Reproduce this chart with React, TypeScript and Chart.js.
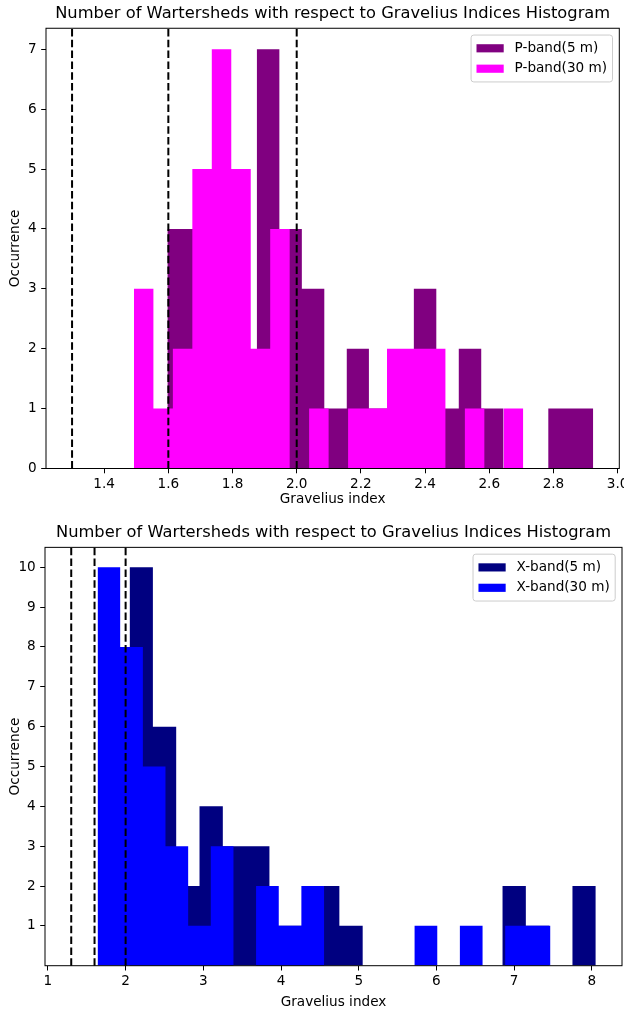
import React, { useEffect, useRef } from "react";
import { Chart, registerables } from "chart.js";

Chart.register(...registerables);

const FONT = "'DejaVu Sans', 'Liberation Sans', sans-serif";

const TITLE = "Number of Wartersheds with respect to Gravelius Indices Histogram";
const X_LABEL = "Gravelius index";
const Y_LABEL = "Occurrence";
const REFERENCE_LINES = [1.3, 1.6, 2.0];

// ---------- P-band ----------
const pBand5Label = "P-band(5 m)";
const pBand5Edges = [
  1.597, 1.667, 1.737, 1.806, 1.876, 1.946, 2.016, 2.086, 2.156, 2.225,
  2.295, 2.365, 2.435, 2.505, 2.575, 2.644, 2.714, 2.784, 2.854, 2.924,
];
const pBand5Counts = [4, 4, 3, 1, 7, 4, 3, 1, 2, 1, 1, 3, 1, 2, 1, 0, 0, 1, 1];

const pBand30Label = "P-band(30 m)";
const pBand30Edges = [
  1.4928, 1.5535, 1.6141, 1.6748, 1.7354, 1.7961, 1.8568, 1.9174, 1.9781,
  2.0387, 2.0994, 2.1601, 2.2207, 2.2814, 2.342, 2.4027, 2.4634, 2.524,
  2.5847, 2.6453, 2.706,
];
const pBand30Counts = [3, 1, 2, 5, 7, 5, 2, 4, 0, 1, 0, 1, 1, 2, 2, 2, 0, 1, 0, 1];

const pXTicks = [1.4, 1.6, 1.8, 2.0, 2.2, 2.4, 2.6, 2.8, 3.0];
const pYTicks = [0, 1, 2, 3, 4, 5, 6, 7];

// ---------- X-band ----------
const xBand5Label = "X-band(5 m)";
const xBand5Edges = [
  2.051, 2.351, 2.651, 2.951, 3.251, 3.551, 3.851, 4.151, 4.451, 4.751,
  5.051, 5.351, 5.651, 5.951, 6.251, 6.551, 6.851, 7.151, 7.451, 7.751, 8.051,
];
const xBand5Counts = [10, 6, 2, 4, 3, 3, 1, 1, 2, 1, 0, 0, 0, 0, 0, 0, 2, 1, 0, 2];

const xBand30Label = "X-band(30 m)";
const xBand30Edges = [
  1.639, 1.93, 2.222, 2.513, 2.805, 3.096, 3.388, 3.679, 3.971, 4.262,
  4.554, 4.845, 5.136, 5.428, 5.719, 6.011, 6.302, 6.594, 6.885, 7.177, 7.468,
];
const xBand30Counts = [10, 8, 5, 3, 1, 3, 0, 2, 1, 2, 0, 0, 0, 0, 1, 0, 1, 0, 1, 1];

const xXTicks = [1, 2, 3, 4, 5, 6, 7, 8];
const xYTicks = [1, 2, 3, 4, 5, 6, 7, 8, 9, 10];

type Series = { label: string; edges: number[]; counts: number[]; color: string };

type Layout = {
  height: number;
  yAxisWidth: number;
  rightPad: number;
  xAxisHeight: number;
  titleTop: number;
  titleBottom: number;
  xTitleBottom: number;
  yTitlePad: number;
};

const TEXT_SIZE = 13.6;
const TITLE_SIZE = 16.3;

function histPoints(edges: number[], counts: number[]) {
  const pts = counts.map((c, i) => ({ x: edges[i], y: c }));
  pts.push({ x: edges[edges.length - 1], y: 0 });
  return pts;
}

function HistChart(props: {
  series: Series[];
  xTicks: number[];
  yTicks: number[];
  xDecimals: number;
  layout: Layout;
}) {
  const ref = useRef<HTMLCanvasElement | null>(null);
  const { series, xTicks, yTicks, xDecimals, layout: L } = props;

  useEffect(() => {
    const canvas = ref.current;
    if (!canvas) return;

    const allX = [...REFERENCE_LINES];
    series.forEach((s) => allX.push(...s.edges));
    const lo = Math.min(...allX);
    const hi = Math.max(...allX);
    const margin = 0.05 * (hi - lo);
    const maxCount = Math.max(...series.flatMap((s) => s.counts));

    const tickFont = { family: FONT, size: TEXT_SIZE };

    const decor = {
      id: "decor",
      afterDatasetsDraw(chart: any) {
        const { ctx, chartArea } = chart;
        const xs = chart.scales.x;
        ctx.save();
        ctx.strokeStyle = "#000";
        ctx.lineWidth = 2;
        ctx.setLineDash([7.5, 3.3]);
        REFERENCE_LINES.forEach((v) => {
          const px = xs.getPixelForValue(v);
          ctx.beginPath();
          ctx.moveTo(px, chartArea.bottom);
          ctx.lineTo(px, chartArea.top);
          ctx.stroke();
        });
        ctx.restore();
      },
      afterDraw(chart: any) {
        const { ctx, chartArea } = chart;
        ctx.save();
        // frame
        ctx.strokeStyle = "#000";
        ctx.lineWidth = 1;
        ctx.setLineDash([]);
        ctx.strokeRect(
          chartArea.left,
          chartArea.top,
          chartArea.right - chartArea.left,
          chartArea.bottom - chartArea.top
        );
        // legend
        const f = TEXT_SIZE;
        ctx.font = `${f}px ${FONT}`;
        const ds = chart.data.datasets;
        const pad = 0.4 * f;
        const hl = 2 * f;
        const htp = 0.8 * f;
        const ls = 0.5 * f;
        const bap = 0.5 * f;
        const rowH = 1.0 * f;
        const maxW = Math.max(...ds.map((d: any) => ctx.measureText(d.label).width));
        const w = 2 * pad + hl + htp + maxW;
        const h = 2 * pad + ds.length * rowH + (ds.length - 1) * ls + 2;
        const x0 = chartArea.right - bap - w;
        const y0 = chartArea.top + bap;
        const r = 0.2 * f;
        ctx.beginPath();
        ctx.moveTo(x0 + r, y0);
        ctx.lineTo(x0 + w - r, y0);
        ctx.quadraticCurveTo(x0 + w, y0, x0 + w, y0 + r);
        ctx.lineTo(x0 + w, y0 + h - r);
        ctx.quadraticCurveTo(x0 + w, y0 + h, x0 + w - r, y0 + h);
        ctx.lineTo(x0 + r, y0 + h);
        ctx.quadraticCurveTo(x0, y0 + h, x0, y0 + h - r);
        ctx.lineTo(x0, y0 + r);
        ctx.quadraticCurveTo(x0, y0, x0 + r, y0);
        ctx.closePath();
        ctx.fillStyle = "rgba(255,255,255,0.8)";
        ctx.fill();
        ctx.strokeStyle = "#cccccc";
        ctx.stroke();
        ds.forEach((d: any, i: number) => {
          const cy = y0 + pad + 1 + i * (rowH + ls) + rowH / 2;
          const ph = 0.6 * f;
          ctx.fillStyle = d.backgroundColor;
          ctx.fillRect(x0 + pad, cy - ph / 2, hl, ph);
          ctx.fillStyle = "#000";
          ctx.textBaseline = "middle";
          ctx.textAlign = "left";
          ctx.fillText(d.label, x0 + pad + hl + htp, cy);
        });
        ctx.restore();
      },
    };

    const chart = new Chart(canvas, {
      type: "line",
      data: {
        datasets: series.map((s, i) => ({
          label: s.label,
          data: histPoints(s.edges, s.counts),
          stepped: "before",
          fill: "origin",
          backgroundColor: s.color,
          borderColor: s.color,
          borderWidth: 0,
          pointRadius: 0,
          pointHoverRadius: 0,
          order: series.length - i,
        })),
      },
      options: {
        responsive: false,
        animation: false,
        events: [],
        layout: { padding: { left: 0, right: L.rightPad, top: 0, bottom: 0 } },
        plugins: {
          legend: { display: false },
          tooltip: { enabled: false },
          title: {
            display: true,
            text: TITLE,
            fullSize: false,
            color: "#000",
            font: { family: FONT, size: TITLE_SIZE, weight: "normal" },
            padding: { top: L.titleTop, bottom: L.titleBottom },
          },
        },
        scales: {
          x: {
            type: "linear",
            min: lo - margin,
            max: hi + margin,
            border: { display: false },
            grid: {
              display: true,
              drawOnChartArea: false,
              drawTicks: true,
              tickLength: 4.8,
              color: "#000",
              lineWidth: 1,
            },
            ticks: {
              color: "#000",
              font: tickFont,
              padding: 3,
              maxRotation: 0,
              autoSkip: false,
              callback: (v: any) => Number(v).toFixed(xDecimals),
            },
            title: {
              display: true,
              text: X_LABEL,
              color: "#000",
              font: tickFont,
              padding: { top: 0, bottom: L.xTitleBottom },
            },
            afterBuildTicks: (s: any) => {
              s.ticks = xTicks.map((v) => ({ value: v }));
            },
            afterFit: (s: any) => {
              s.height = L.xAxisHeight;
              s.paddingLeft = 0;
              s.paddingRight = 0;
            },
          },
          y: {
            type: "linear",
            min: 0,
            max: maxCount * 1.05,
            border: { display: false },
            grid: {
              display: true,
              drawOnChartArea: false,
              drawTicks: true,
              tickLength: 4.8,
              color: "#000",
              lineWidth: 1,
            },
            ticks: {
              color: "#000",
              font: tickFont,
              padding: 4.5,
              autoSkip: false,
              callback: (v: any) => Number(v).toFixed(0),
            },
            title: {
              display: true,
              text: Y_LABEL,
              color: "#000",
              font: tickFont,
              padding: { top: L.yTitlePad, bottom: 0 },
            },
            afterBuildTicks: (s: any) => {
              s.ticks = yTicks.map((v) => ({ value: v }));
            },
            afterFit: (s: any) => {
              s.width = L.yAxisWidth;
              s.paddingTop = 0;
              s.paddingBottom = 0;
            },
          },
        },
      } as any,
      plugins: [decor],
    });

    return () => chart.destroy();
  }, []);

  return <canvas ref={ref} width={624} height={L.height} style={{ display: "block" }} />;
}

const topLayout: Layout = {
  height: 518,
  yAxisWidth: 46,
  rightPad: 4.7,
  xAxisHeight: 49.5,
  titleTop: 4.2,
  titleBottom: 4.5,
  xTitleBottom: 10.2,
  yTitlePad: 7.0,
};

const bottomLayout: Layout = {
  height: 496,
  yAxisWidth: 45,
  rightPad: 2,
  xAxisHeight: 48.3,
  titleTop: 5.2,
  titleBottom: 4.6,
  xTitleBottom: 3.2,
  yTitlePad: 7.0,
};

export default function App() {
  const pSeries: Series[] = [
    { label: pBand5Label, edges: pBand5Edges, counts: pBand5Counts, color: "#800080" },
    { label: pBand30Label, edges: pBand30Edges, counts: pBand30Counts, color: "#ff00ff" },
  ];
  const xSeries: Series[] = [
    { label: xBand5Label, edges: xBand5Edges, counts: xBand5Counts, color: "#000080" },
    { label: xBand30Label, edges: xBand30Edges, counts: xBand30Counts, color: "#0000ff" },
  ];
  return (
    <div style={{ position: "absolute", left: 0, top: 0, width: 624, height: 1014, background: "#fff" }}>
      <div style={{ position: "absolute", left: 0, top: 0 }}>
        <HistChart series={pSeries} xTicks={pXTicks} yTicks={pYTicks} xDecimals={1} layout={topLayout} />
      </div>
      <div style={{ position: "absolute", left: 0, top: 518 }}>
        <HistChart series={xSeries} xTicks={xXTicks} yTicks={xYTicks} xDecimals={0} layout={bottomLayout} />
      </div>
    </div>
  );
}
